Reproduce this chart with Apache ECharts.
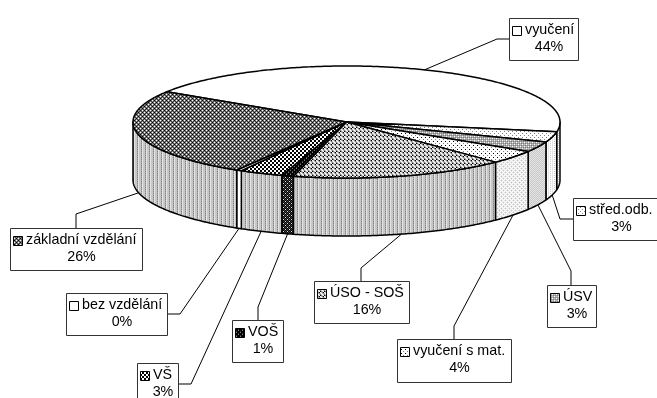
<!DOCTYPE html>
<html><head><meta charset="utf-8">
<style>html,body{margin:0;padding:0;background:#fff}#c{width:657px;height:398px}</style>
<script src="https://cdn.jsdelivr.net/npm/echarts@6/dist/echarts.min.js"></script>
</head><body><div id="c"></div>
<script>
// ---- data (pie order, clockwise) ----
const categories = ['vyučení','střed.odb.','ÚSV','vyučení s mat.','ÚSO - SOŠ','VOŠ','VŠ','bez vzdělání','základní vzdělání'];
const values     = [43.75, 3.0, 3.0, 3.9, 16.3, 0.9, 3.3, 0.4, 25.5];
const percentLabels = ['44%','3%','3%','4%','16%','1%','3%','0%','26%'];

// ---- layout (pie geometry and label boxes) ----
const startAngle = 212.7, cx = 346.5, cy = 122, rx = 213.5, ry = 56, depth = 58;
const boxes  = [[509,18,69,42],[573,198,86,42],[547,285,49,42],[397,339,114,43],[314,281,95,42],[232,320,51,42],[137,363,41,42],[66,293,101,42],[10,228,132,42]];
const elbows = [[[497,39],[509,39]],[[560,219],[573,219]],[[571,271],[571,285]],[[454,326],[454,339]],[[361,268],[361,281]],[[258,307],[258,320]],[[191,384],[178,384]],[[180,314],[167,314]],[[76,214],[76,228]]];

// ---- pattern fills: each string is a pixel row, letters are grey levels ----
const G = {k:'#000',d:'#404040',g:'#808080',m:'#a8a8a8',l:'#c8c8c8',e:'#e4e4e4',w:'#fff'};
const P = {
  white:  ['w'],
  dark:   ['wgkg','gdgd','kgwg','gdgd'],
  uso:    ['wlgk','lwlg','glwl','kglw'],
  vs:     ['wwkk','wwkk','kkww','kkww'],
  voss:   ['gkkk','kkdk','kkgk','dkkk'],
  mat:    ['wwww','wkww','wwww','wwwg'],
  usv:    ['lmwm','mgmg','wmlm','mgmg'],
  stred:  ['wwww','wwgw','wwww','gwww'],
  sideG:  ['lmel','lgel','lmel','lgel'],
  sideVo: ['dkdk','kekd','dkdk','kdke'],
  sideMat:['elew','wewe','ewel','wewe'],
  sideUsv:['elel','lele','elel','lele'],
  sideStr:['ewww','ewlw','ewww','ewlw']
};
function pat(name){
  const rows = P[name], c = document.createElement('canvas');
  c.width = rows[0].length; c.height = rows.length;
  const x = c.getContext('2d');
  rows.forEach((r,j)=>[...r].forEach((ch,i)=>{x.fillStyle=G[ch];x.fillRect(i,j,1,1);}));
  return {image:c,repeat:'repeat'};
}
const topFill  = ['white','stred','usv','mat','uso','voss','vs','white','dark'].map(pat);
const sideFill = ['sideStr','sideStr','sideUsv','sideMat','sideG','sideVo','sideG','white','sideG'].map(pat);

// ---- angles derived from the values ----
const total = values.reduce((a,b)=>a+b,0);
const spans = []; { let a = startAngle; values.forEach(v=>{const e=a+v/total*360;spans.push([a,e]);a=e;}); }
const rad = d=>d*Math.PI/180;
const pt = (d,dy=0)=>[cx+rx*Math.cos(rad(d)), cy+dy+ry*Math.sin(rad(d))];
function arc(a,b,dy=0){ const n=Math.max(2,Math.ceil(Math.abs(b-a)*1.5)),o=[]; for(let i=0;i<=n;i++)o.push(pt(a+(b-a)*i/n,dy)); return o; }
const LINE = {stroke:'#000',lineWidth:1.5,lineJoin:'round'};

function sideItem(params){
  const i = params.dataIndex, [a,b] = spans[i], kids=[];
  [0,360].forEach(off=>{
    const s=Math.max(a,off), e=Math.min(b,off+180);
    if(e>s) kids.push({type:'polygon',shape:{points:arc(s,e).concat(arc(e,s,depth))},style:{fill:sideFill[i],...LINE}});
  });
  return {type:'group',children:kids};
}
function topItem(params){
  const i = params.dataIndex, [a,b] = spans[i];
  return {type:'polygon',shape:{points:[[cx,cy]].concat(arc(a,b))},style:{fill:topFill[i],...LINE}};
}
const FONT = '14.3px "Liberation Sans", Arial, sans-serif';
function labelItem(params){
  const i = params.dataIndex, [a,b]=spans[i], m=(a+b)/2, [x,y,w,h]=boxes[i];
  const front = Math.sin(rad(m))>0;
  const start = pt(m, front?depth:0);
  return {type:'group',children:[
    {type:'polyline',shape:{points:[start].concat(elbows[i])},style:{stroke:'#000',lineWidth:1,fill:null}},
    {type:'rect',shape:{x:x+.5,y:y+.5,width:w,height:h},style:{fill:'#fff',stroke:'#333',lineWidth:1}},
    {type:'rect',shape:{x:x+3.5,y:y+8.5,width:9,height:9},style:{fill:topFill[i],stroke:'#000',lineWidth:1}},
    {type:'text',style:{x:x+16,y:y+12.5,text:categories[i],font:FONT,fill:'#000',textAlign:'left',textVerticalAlign:'middle'}},
    {type:'text',style:{x:x+w/2+5.5,y:y+29.5,text:percentLabels[i],font:FONT,fill:'#000',textAlign:'center',textVerticalAlign:'middle'}}
  ]};
}
const chart = echarts.init(document.getElementById('c'),null,{renderer:'canvas'});
const seriesData = categories.map((n,i)=>({name:n,value:values[i]}));
chart.setOption({
  animation:false,
  backgroundColor:'#fff',
  series:[
    {type:'custom',coordinateSystem:'none',renderItem:sideItem,data:seriesData,z:1,silent:true},
    {type:'custom',coordinateSystem:'none',renderItem:topItem,data:seriesData,z:2,silent:true},
    {type:'custom',coordinateSystem:'none',renderItem:labelItem,data:seriesData,z:3,silent:true}
  ]
});
</script></body></html>
